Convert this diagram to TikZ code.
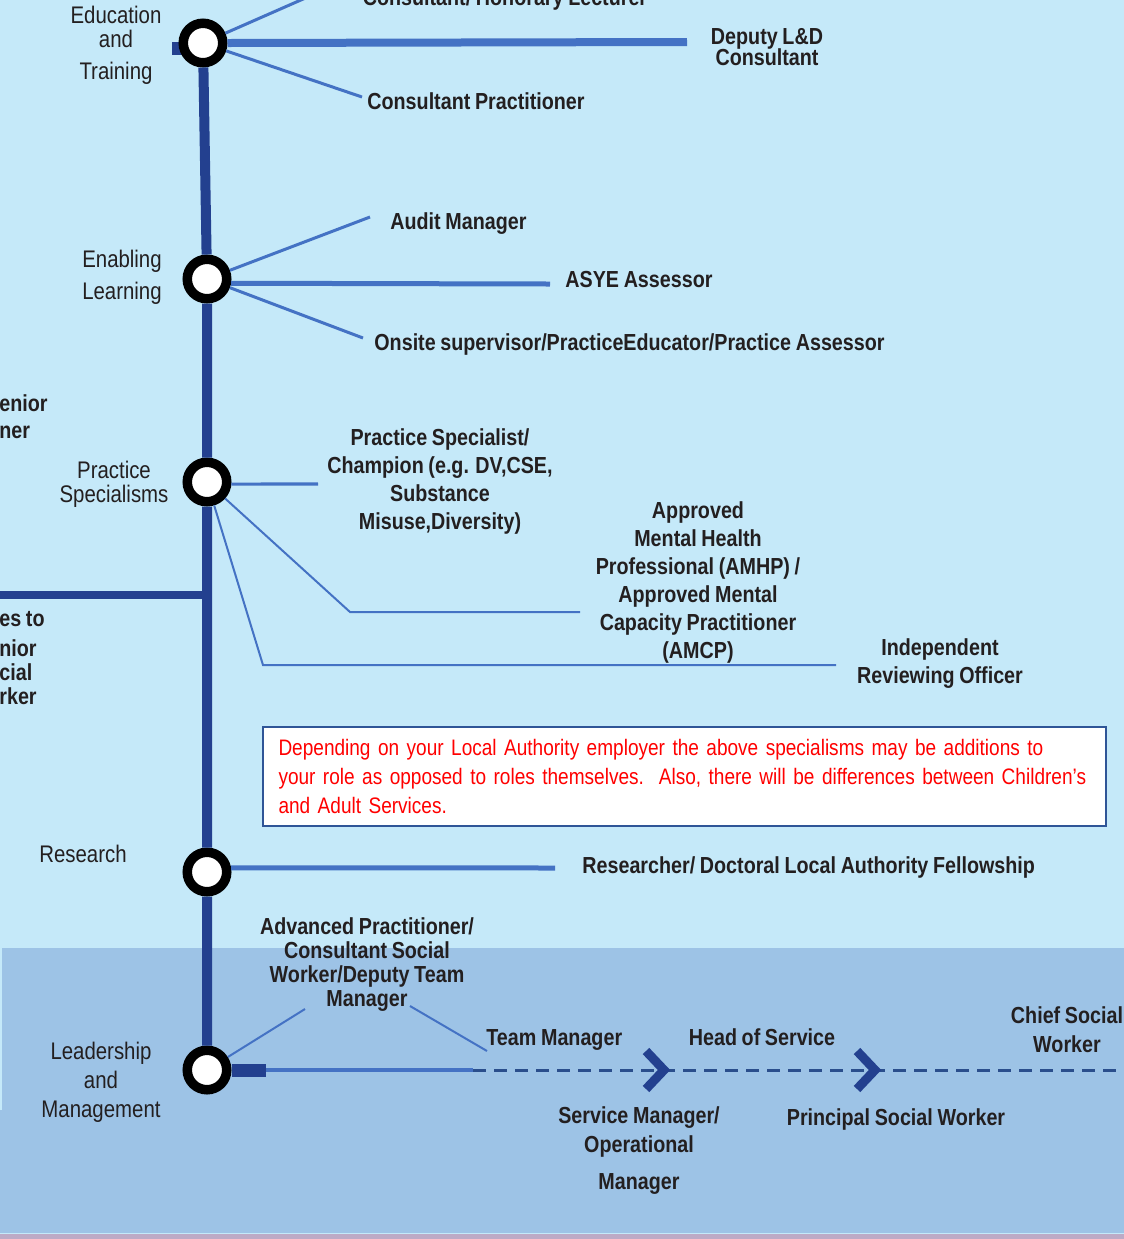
\documentclass[tikz,border=0pt]{standalone}
\usepackage{fontspec}
\setmainfont{Liberation Sans}[FakeStretch=0.85, WordSpace=0.85]

\definecolor{skybg}{RGB}{197,233,249}
\definecolor{bandbg}{RGB}{157,195,230}
\definecolor{mauve}{RGB}{189,170,198}
\definecolor{navy}{RGB}{35,64,143}
\definecolor{branch}{RGB}{68,114,196}
\definecolor{dashblue}{RGB}{42,78,140}
\definecolor{boxline}{RGB}{47,85,151}
\definecolor{inkgrey}{RGB}{35,31,32}

\tikzset{
	station/.style={circle, draw=black, fill=white, line width=4.75pt, minimum size=19.75pt, inner sep=0pt},
	trunk/.style={navy, line width=5pt},
	spoke/.style={branch, line width=1.5pt},
	finespoke/.style={branch, line width=1pt},
	rail/.style={branch, line width=2.5pt},
	role/.style={font=\bfseries\fontsize{11.6}{14}\selectfont, text=inkgrey, align=center, inner sep=0pt},
	track/.style={font=\fontsize{12}{12}\selectfont, text=inkgrey, align=center, inner sep=0pt},
	notebox/.style={draw=boxline, line width=1pt, fill=white, minimum width=421.5pt, minimum height=49.5pt,
		text width=406pt, align=left, inner sep=0pt, text=red, font=\fontsize{11.2}{14.5}\selectfont}
}

\begin{document}
\begin{tikzpicture}[x=0.5pt, y=-0.5pt]
	\useasboundingbox (0,0) rectangle (1124,1239);
	\clip (0,0) rectangle (1124,1239);

	% background bands
	\fill[skybg] (0,0) rectangle (1124,1239);
	\fill[bandbg] (2,948) rectangle (1124,1233);
	\fill[bandbg] (0,1110) rectangle (2,1233);
	\fill[mauve] (0,1234) rectangle (1124,1239);

	\fill[navy] (172,42) rectangle (186,55);

	% stations
	\node[station] (edu) at (203,43) {};
	\node[station] (enab) at (207,279) {};
	\node[station] (prac) at (207,482) {};
	\node[station] (res) at (207,872) {};
	\node[station] (lead) at (207,1070) {};

	\draw[trunk] (edu) -- (enab) -- (prac) -- (res) -- (lead);
	\coordinate (join) at (207,595);
	\coordinate (offleft) at (-5,595);
	\draw[navy, line width=4pt] (join) -- (offleft);

	% education and training
	\coordinate (lect-end) at (310,-4);
	\coordinate (dep-end) at (687,42);
	\coordinate (cp-end) at (362,97);
	\draw[spoke] (edu) -- (lect-end);
	\draw[branch, line width=4pt] (edu.east) -- (dep-end);
	\draw[spoke] (edu) -- (cp-end);

	% enabling learning
	\coordinate (audit-end) at (370,217);
	\coordinate (asye-end) at (550,284);
	\coordinate (onsite-end) at (363,338);
	\draw[spoke] (enab) -- (audit-end);
	\draw[rail] (enab.-10) -- (asye-end);
	\draw[spoke] (enab) -- (onsite-end);

	% practice specialisms
	\coordinate (champ-end) at (318,484);
	\coordinate (amhp-bend) at (350,612);
	\coordinate (amhp-end) at (580,612);
	\coordinate (iro-bend) at (263,665);
	\coordinate (iro-end) at (836,665);
	\draw[branch, line width=1.6pt] (prac.-5) -- (champ-end);
	\draw[finespoke] (prac) -- (amhp-bend) -- (amhp-end);
	\draw[finespoke] (prac) -- (iro-bend) -- (iro-end);

	% research
	\coordinate (fellow-end) at (555,868);
	\draw[rail] (res.10) -- (fellow-end);

	% leadership and management
	\coordinate (stub-end) at (266,1070);
	\coordinate (dash-start) at (473,1070);
	\coordinate (dash-end) at (1130,1070);
	\coordinate (adv-a) at (305,1009);
	\coordinate (adv-b) at (410,1006);
	\coordinate (team-end) at (487,1051);
	\draw[navy, line width=6.5pt] (lead.east) -- (stub-end);
	\draw[branch, line width=2.2pt] (stub-end) -- (dash-start);
	\draw[dashblue, line width=1.5pt, dash pattern=on 6.5pt off 4pt] (dash-start) -- (dash-end);
	\draw[navy, line width=4.5pt, line join=miter] (646,1051) -- (664,1070) -- (646,1089);
	\draw[navy, line width=4.5pt, line join=miter] (857,1051) -- (875,1070) -- (857,1089);
	\draw[finespoke] (lead) -- (adv-a);
	\draw[finespoke] (adv-b) -- (team-end);

	% track labels
	\node[track] (l-edu) at (116,45) {Education\\and\\[4pt]Training};
	\node[track] (l-enab) at (122,277) {Enabling\\[4pt]Learning};
	\node[track] (l-prac) at (114,484) {Practice\\Specialisms};
	\node[track] (l-res) at (83,854) {Research};
	\node[track] (l-lead) at (101,1082) {Leadership\\[2.5pt]and\\[2.5pt]Management};

	% cut off at the left edge
	\node[role, anchor=west] (frag-a) at (-1,403) {enior};
	\node[role, anchor=west] (frag-b) at (-1,432) {ner};
	\node[role, anchor=west] (frag-c) at (-1,619) {es to};
	\node[role, anchor=west] (frag-d) at (-1,648) {nior};
	\node[role, anchor=west] (frag-e) at (-1,672) {cial};
	\node[role, anchor=west] (frag-f) at (-1,696) {rker};

	% roles
	\node[role, anchor=base] (lect) at (505,5) {Consultant/ Honorary Lecturer};
	\node[role] (dep) at (767,47) {Deputy L\&D\\[-3.5pt]Consultant};
	\node[role, anchor=west] (cprac) at (367,101) {Consultant Practitioner};
	\node[role, anchor=west] (audit) at (390,224) {Audit Manager};
	\node[role, anchor=west] (asye) at (565,280) {ASYE Assessor};
	\node[role, anchor=west] (onsite) at (374,344) {Onsite supervisor/PracticeEducator/Practice Assessor};
	\node[role] (champ) at (440,481) {Practice Specialist/\\Champion (e.g. DV,CSE,\\Substance\\Misuse,Diversity)};
	\node[role] (amhp) at (698,582) {Approved\\Mental Health\\Professional (AMHP) /\\Approved Mental\\Capacity Practitioner\\(AMCP)};
	\node[role] (iro) at (940,664) {Independent\\Reviewing Officer};
	\node[notebox] (note) at (684.5,776.5) {Depending on your Local Authority employer the above specialisms may be additions to\\your role as opposed to roles themselves.\ \ Also, there will be differences between Children's\\and Adult Services.};
	\node[role, anchor=west] (fellow) at (582,867) {Researcher/ Doctoral Local Authority Fellowship};
	\node[role] (adv) at (367,965) {Advanced Practitioner/\\[-2pt]Consultant Social\\[-2pt]Worker/Deputy Team\\[-2pt]Manager};
	\node[role, anchor=west] (team) at (486,1040) {Team Manager};
	\node[role] (head) at (762,1037) {Head of Service};
	\node[role] (chief) at (1067,1030) {Chief Social\\[0.5pt]Worker};
	\node[role] (svc) at (639,1151) {Service Manager/\\[0.5pt]Operational\\[4.5pt]Manager};
	\node[role] (psw) at (896,1119) {Principal Social Worker};
\end{tikzpicture}
\end{document}
